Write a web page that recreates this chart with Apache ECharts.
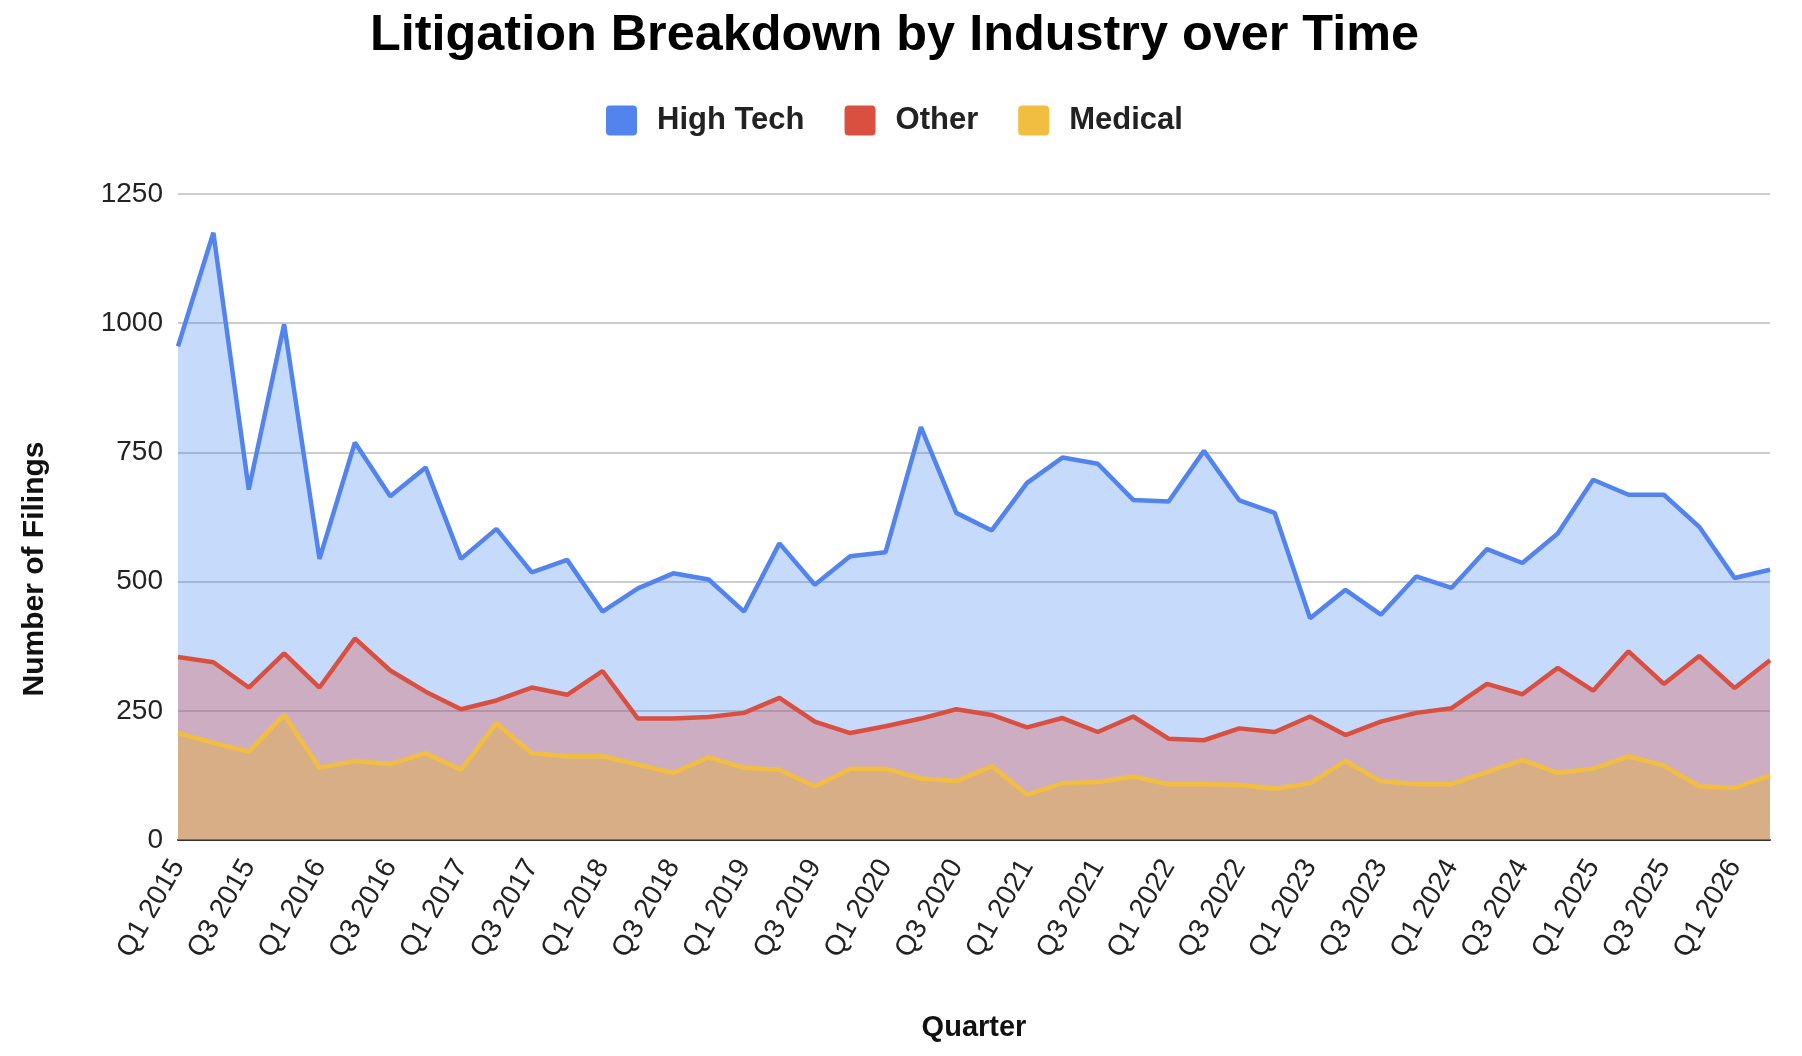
<!DOCTYPE html>
<html>
<head>
<meta charset="utf-8">
<title>Litigation Breakdown by Industry over Time</title>
<script src="https://cdn.jsdelivr.net/npm/echarts@6/dist/echarts.min.js"></script>
<style>
  html, body { margin: 0; padding: 0; background: #fff; }
  #chart1 { width: 1802px; height: 1056px; }
</style>
</head>
<body>
<div id="chart1"></div>
<script>
// quarters on the x axis
var quarters = [
    'Q1 2015', 'Q2 2015', 'Q3 2015', 'Q4 2015',
    'Q1 2016', 'Q2 2016', 'Q3 2016', 'Q4 2016',
    'Q1 2017', 'Q2 2017', 'Q3 2017', 'Q4 2017',
    'Q1 2018', 'Q2 2018', 'Q3 2018', 'Q4 2018',
    'Q1 2019', 'Q2 2019', 'Q3 2019', 'Q4 2019',
    'Q1 2020', 'Q2 2020', 'Q3 2020', 'Q4 2020',
    'Q1 2021', 'Q2 2021', 'Q3 2021', 'Q4 2021',
    'Q1 2022', 'Q2 2022', 'Q3 2022', 'Q4 2022',
    'Q1 2023', 'Q2 2023', 'Q3 2023', 'Q4 2023',
    'Q1 2024', 'Q2 2024', 'Q3 2024', 'Q4 2024',
    'Q1 2025', 'Q2 2025', 'Q3 2025', 'Q4 2025',
    'Q1 2026', 'Q2 2026'
];

// filings per quarter
var highTech = [955, 1175, 678, 998, 544, 769, 665, 721, 544, 602, 518, 542,
    442, 487, 516, 504, 442, 574, 494, 549, 557, 799, 633, 599,
    691, 740, 728, 658, 655, 753, 657, 633, 429, 484, 436, 510,
    488, 563, 536, 593, 697, 668, 668, 606, 507, 523];
var other = [354, 344, 295, 361, 295, 390, 328, 287, 253, 270, 295, 281,
    327, 235, 235, 238, 246, 275, 229, 207, 220, 235, 253, 242,
    218, 236, 209, 239, 196, 193, 216, 209, 239, 203, 229, 246,
    255, 302, 282, 333, 289, 365, 302, 356, 294, 348];
var medical = [207, 188, 171, 242, 140, 153, 147, 168, 136, 226, 168, 162,
    162, 146, 130, 160, 140, 136, 104, 138, 138, 119, 114, 143,
    88, 110, 112, 123, 108, 108, 107, 99, 110, 153, 114, 108,
    108, 132, 155, 130, 138, 162, 144, 104, 101, 125];

var yTicks = [0, 250, 500, 750, 1000, 1250];

var font = '"Liberation Sans", Arial, sans-serif';
// small-radius square like the sheets legend swatch
var swatch = 'path://M4,0 H27 Q31,0 31,4 V26 Q31,30 27,30 H4 Q0,30 0,26 V4 Q0,0 4,0 Z';
var seriesInfo = [
    { name: 'High Tech', data: highTech, line: '#5383ec', fill: 'rgba(66,133,244,0.3)' },
    { name: 'Other', data: other, line: '#da5040', fill: 'rgba(219,68,55,0.3)' },
    { name: 'Medical', data: medical, line: '#f2be42', fill: 'rgba(244,180,0,0.3)' }
];

var myChart = echarts.init(document.getElementById('chart1'));

var series = [];
for (var i = 0; i < seriesInfo.length; i++) {
    var s = seriesInfo[i];
    series.push({
        name: s.name,
        type: 'line',
        data: s.data,
        symbol: 'none',
        lineStyle: { color: s.line, width: 4.5 },
        itemStyle: { color: s.line },
        areaStyle: { color: s.fill, opacity: 1 }
    });
}

var option = {
    animation: false,
    backgroundColor: '#fff',
    title: {
        text: 'Litigation Breakdown by Industry over Time',
        left: 370,
        top: 11,
        padding: 0,
        textStyle: { fontFamily: font, fontSize: 50.4, fontWeight: 'bold', color: '#000' }
    },
    legend: {
        top: 100,
        left: 601,
        icon: swatch,
        itemWidth: 31,
        itemHeight: 30,
        itemGap: 40,
        data: ['High Tech', 'Other', 'Medical'],
        textStyle: { fontFamily: font, fontSize: 31, fontWeight: 'bold', color: '#222', padding: [0, 0, 0, 15] }
    },
    grid: { left: 178, right: 32, top: 194, bottom: 216, containLabel: false },
    xAxis: {
        type: 'category',
        data: quarters,
        boundaryGap: false,
        name: 'Quarter',
        nameLocation: 'middle',
        nameGap: 173,
        nameTextStyle: { fontFamily: font, fontSize: 29, fontWeight: 'bold', color: '#111' },
        axisLine: { lineStyle: { color: '#333', width: 2 } },
        axisTick: { show: false },
        axisLabel: {
            interval: 1,
            rotate: 60,
            margin: 22,
            padding: [66, 0, 0, 0],
            fontFamily: font,
            fontSize: 28,
            color: '#222'
        },
        splitLine: { show: false }
    },
    yAxis: {
        type: 'value',
        min: yTicks[0],
        max: yTicks[yTicks.length - 1],
        interval: 250,
        name: 'Number of Filings',
        nameLocation: 'middle',
        nameGap: 128,
        nameTextStyle: { fontFamily: font, fontSize: 30, fontWeight: 'bold', color: '#111', padding: [0, 104, 0, 0] },
        axisLine: { show: false },
        axisTick: { show: false },
        axisLabel: {
            margin: 15,
            fontFamily: font,
            fontSize: 28,
            color: '#222',
            formatter: function (v) { return String(v); }
        },
        splitLine: { lineStyle: { color: '#cccccc', width: 2 } }
    },
    series: series
};

myChart.setOption(option);
</script>
</body>
</html>
